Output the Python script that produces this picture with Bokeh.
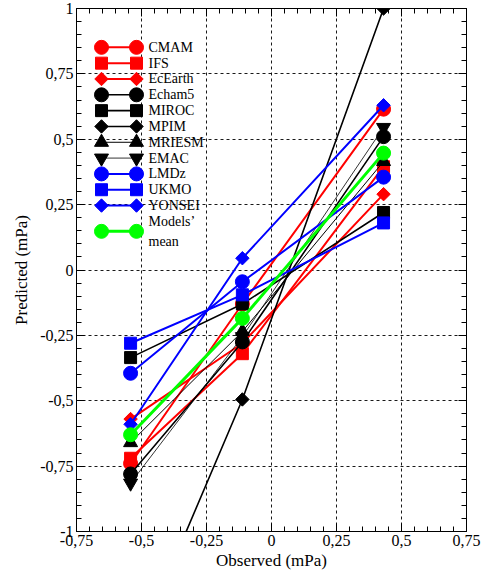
import numpy as np
from bokeh.plotting import figure
from bokeh.models import Range1d, FixedTicker, LinearAxis, CustomJSTickFormatter
from bokeh.embed import file_html
from bokeh.resources import INLINE
from bokeh.core.properties import value

# ---------------- data ----------------
observed = [-0.542, -0.112, 0.431]

model_names = ["CMAM", "IFS", "EcEarth", "Echam5", "MIROC", "MPIM", "MRIESM",
               "EMAC", "LMDz", "UKMO", "YONSEI", "Models’\n mean"]

cmam = [-0.74, -0.13, 0.615]
ifs = [-0.72, -0.32, 0.395]
ecearth = [-0.57, -0.28, 0.29]
echam5 = [-0.78, -0.275, 0.51]
miroc = [-0.335, -0.13, 0.22]
mpim = [-1.5, -0.495, 1.0]
mriesm = [-0.66, -0.235, 0.415]
emac = [-0.815, -0.255, 0.545]
lmdz = [-0.395, -0.045, 0.355]
ukmo = [-0.28, -0.095, 0.18]
yonsei = [-0.59, 0.045, 0.63]
models_mean = [-0.63, -0.185, 0.447]

series = [cmam, ifs, ecearth, echam5, miroc, mpim, mriesm, emac, lmdz, ukmo, yonsei, models_mean]

x_ticks = [-0.75, -0.5, -0.25, 0, 0.25, 0.5, 0.75]
x_tick_labels = ["-0,75", "-0,5", "-0,25", "0", "0,25", "0,5", "0,75"]
y_ticks = [-1, -0.75, -0.5, -0.25, 0, 0.25, 0.5, 0.75, 1]
y_tick_labels = ["-1", "-0,75", "-0,5", "-0,25", "0", "0,25", "0,5", "0,75", "1"]

# ---------------- styles ----------------
RED, BLACK, BLUE, GREEN = "#ff0000", "#000000", "#0000ff", "#00ff00"
DIAM = np.pi / 4
styles = [
    dict(color=RED, marker="circle", size=14, angle=0, lw=2),
    dict(color=RED, marker="square", size=12, angle=0, lw=2),
    dict(color=RED, marker="square", size=9.5, angle=DIAM, lw=2),
    dict(color=BLACK, marker="circle", size=14, angle=0, lw=1.6),
    dict(color=BLACK, marker="square", size=12, angle=0, lw=1.6),
    dict(color=BLACK, marker="square", size=9.5, angle=DIAM, lw=1.6),
    dict(color=BLACK, marker="triangle", size=14, angle=0, lw=1),
    dict(color=BLACK, marker="inverted_triangle", size=14, angle=0, lw=0.8),
    dict(color=BLUE, marker="circle", size=14, angle=0, lw=2),
    dict(color=BLUE, marker="square", size=12, angle=0, lw=2),
    dict(color=BLUE, marker="square", size=9.5, angle=DIAM, lw=2),
    dict(color=GREEN, marker="circle", size=14, angle=0, lw=3),
]

FONT = "'Liberation Serif', 'Times New Roman', serif"

p = figure(width=483, height=579, output_backend="svg", toolbar_location=None,
           x_range=Range1d(-0.75, 0.75), y_range=Range1d(-1, 1),
           min_border_left=76, min_border_right=17, min_border_top=8, min_border_bottom=48,
           background_fill_color="white", border_fill_color="white")
p.outline_line_color = "black"
p.outline_line_alpha = 1
p.outline_line_width = 1

JS_FMT = """
const i = tvals.findIndex(t => Math.abs(t - tick) < 1e-9);
return i >= 0 ? tlabels[i] : "";
"""
fmt_x = CustomJSTickFormatter(args=dict(tvals=x_ticks, tlabels=x_tick_labels), code=JS_FMT)
fmt_y = CustomJSTickFormatter(args=dict(tvals=y_ticks, tlabels=y_tick_labels), code=JS_FMT)
x_minor = [round(-0.75 + 0.05 * i, 3) for i in range(31)]
y_minor = [round(-1 + 0.05 * i, 3) for i in range(41)]

for ax, ticks, minor, fmt in [(p.xaxis[0], x_ticks, x_minor, fmt_x), (p.yaxis[0], y_ticks, y_minor, fmt_y)]:
    ax.ticker = FixedTicker(ticks=ticks, minor_ticks=minor)
    ax.formatter = fmt
    ax.major_tick_in = 8
    ax.major_tick_out = 0
    ax.minor_tick_in = 5
    ax.minor_tick_out = 0
    ax.major_tick_line_color = "black"
    ax.minor_tick_line_color = "black"
    ax.axis_line_color = "black"
    ax.major_label_text_font = FONT
    ax.major_label_text_font_size = "16px"
    ax.major_label_text_color = "black"
    ax.axis_label_text_font = FONT
    ax.axis_label_text_font_size = "17px"
    ax.axis_label_text_font_style = "normal"
    ax.axis_label_text_color = "black"

p.xaxis.axis_label = "Observed (mPa)"
p.yaxis.axis_label = "Predicted (mPa)"
p.xaxis.major_label_standoff = 3
p.xaxis.axis_label_standoff = 2
p.yaxis.major_label_standoff = 3
p.yaxis.axis_label_standoff = 6

# mirrored ticks on top and right
blank = CustomJSTickFormatter(code="return '';")
for loc, ticks, minor in [("above", x_ticks, x_minor), ("right", y_ticks, y_minor)]:
    ax = LinearAxis(ticker=FixedTicker(ticks=ticks, minor_ticks=minor), formatter=blank,
                    major_tick_in=8, major_tick_out=0, minor_tick_in=5, minor_tick_out=0,
                    major_label_text_font_size="0px", major_label_standoff=0,
                    axis_line_color=None)
    p.add_layout(ax, loc)

p.xgrid.ticker = FixedTicker(ticks=x_ticks[1:-1])
p.ygrid.ticker = FixedTicker(ticks=y_ticks[1:-1])
for g in (p.xgrid[0], p.ygrid[0]):
    g.grid_line_color = "black"
    g.grid_line_dash = "3 3"
    g.grid_line_width = 1
    g.grid_line_alpha = 0.9

# ---------------- data marks ----------------
for vals, st in zip(series, styles):
    p.line(observed, vals, line_color=st["color"], line_width=st["lw"])
    p.scatter(observed, vals, marker=st["marker"], size=st["size"], angle=st["angle"],
              fill_color=st["color"], line_color=st["color"])

# ---------------- legend (frame-pixel ranges) ----------------
p.extra_x_ranges = {"lx": Range1d(0, 390)}
p.extra_y_ranges = {"ly": Range1d(521, 0)}
row_top, row_step = 38.7, 15.76
leg_y = [row_top + row_step * i for i in range(11)] + [222]
leg_mx = [25, 60]
leg_tx = 72
for name, st, y in zip(model_names, styles, leg_y):
    p.line(leg_mx, [y, y], x_range_name="lx", y_range_name="ly",
           line_color=st["color"], line_width=st["lw"])
    p.scatter(leg_mx, [y, y], x_range_name="lx", y_range_name="ly",
              marker=st["marker"], size=st["size"], angle=st["angle"],
              fill_color=st["color"], line_color=st["color"])
    p.text([leg_tx], [y], text=[name], x_range_name="lx", y_range_name="ly",
           text_font=value(FONT), text_font_size="14px", text_baseline="middle",
           text_align="left", text_color="black", text_line_height=1.35)

open("out.html", "w").write(file_html(p, INLINE))
